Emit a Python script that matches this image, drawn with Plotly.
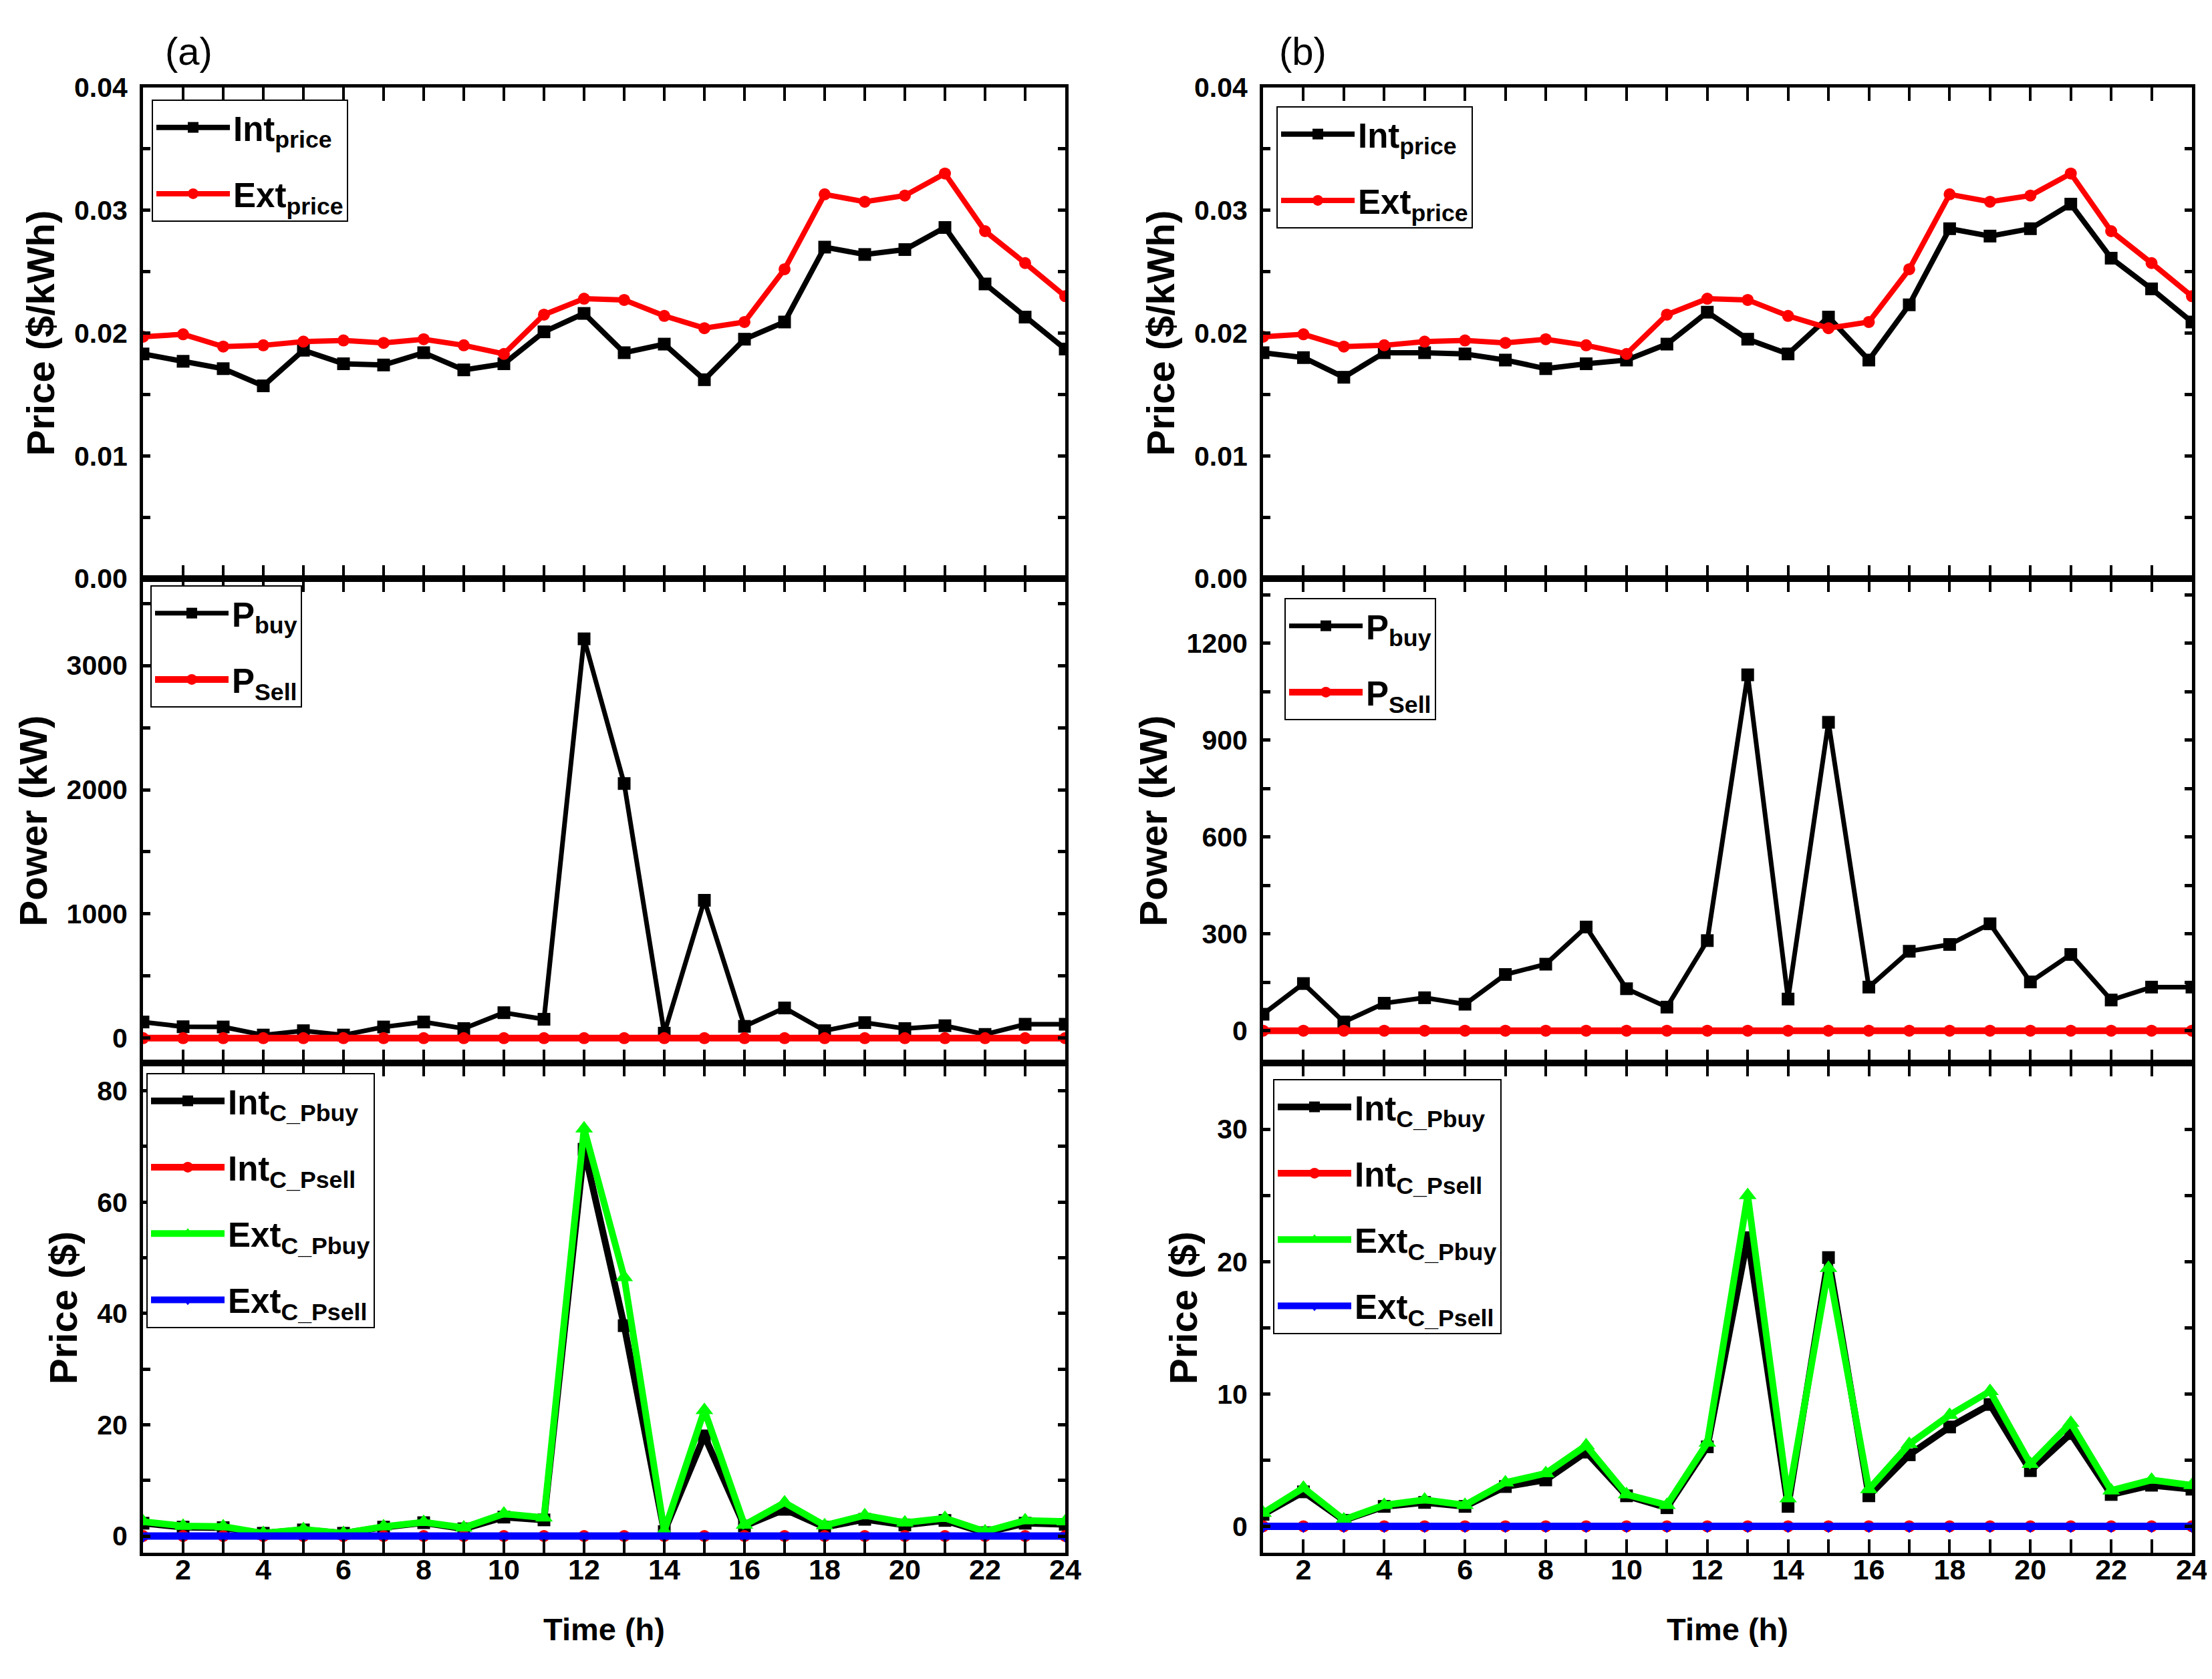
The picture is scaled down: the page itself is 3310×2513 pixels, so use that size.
import plotly.graph_objects as go

# ---------------- data ----------------
hours = [1, 2, 3, 4, 5, 6, 7, 8, 9, 10, 11, 12, 13, 14, 15, 16, 17, 18, 19, 20, 21, 22, 23, 24]

int_price_a = [0.0183, 0.0177, 0.0171, 0.0157, 0.0186, 0.0175, 0.0174, 0.0184, 0.0170, 0.0175, 0.0201, 0.0216,
               0.0184, 0.0191, 0.0162, 0.0195, 0.0209, 0.0270, 0.0264, 0.0268, 0.0286, 0.0240, 0.0213, 0.0187]
ext_price_a = [0.0197, 0.0199, 0.0189, 0.0190, 0.0193, 0.0194, 0.0192, 0.0195, 0.0190, 0.0183, 0.0215, 0.0228,
               0.0227, 0.0214, 0.0204, 0.0209, 0.0252, 0.0313, 0.0307, 0.0312, 0.0330, 0.0283, 0.0257, 0.0230]
int_price_b = [0.0184, 0.0180, 0.0164, 0.0184, 0.0184, 0.0183, 0.0178, 0.0171, 0.0175, 0.0178, 0.0191, 0.0217,
               0.0195, 0.0183, 0.0213, 0.0178, 0.0223, 0.0285, 0.0279, 0.0285, 0.0305, 0.0261, 0.0236, 0.0209]
ext_price_b = [0.0197, 0.0199, 0.0189, 0.0190, 0.0193, 0.0194, 0.0192, 0.0195, 0.0190, 0.0183, 0.0215, 0.0228,
               0.0227, 0.0214, 0.0204, 0.0209, 0.0252, 0.0313, 0.0307, 0.0312, 0.0330, 0.0283, 0.0257, 0.0230]

p_buy_a = [130, 92, 90, 25, 60, 25, 90, 130, 77, 205, 152, 3215, 2050, 40, 1110, 95, 243, 60, 125, 77, 100, 30, 112, 112]
p_sell_a = [0, 0, 0, 0, 0, 0, 0, 0, 0, 0, 0, 0, 0, 0, 0, 0, 0, 0, 0, 0, 0, 0, 0, 0]
p_buy_b = [51, 146, 27, 85, 102, 82, 174, 206, 321, 130, 73, 279, 1102, 98, 955, 135, 246, 267, 331, 151, 236, 95, 135, 135]
p_sell_b = [0, 0, 0, 0, 0, 0, 0, 0, 0, 0, 0, 0, 0, 0, 0, 0, 0, 0, 0, 0, 0, 0, 0, 0]

int_c_pbuy_a = [2.3, 1.6, 1.5, 0.5, 1.1, 0.5, 1.6, 2.4, 1.3, 3.4, 2.9, 69.5, 37.8, 0.8, 18.0, 1.8, 4.8, 1.6, 3.0, 2.0, 2.8, 0.6, 2.3, 2.1]
int_c_psell_a = [0, 0, 0, 0, 0, 0, 0, 0, 0, 0, 0, 0, 0, 0, 0, 0, 0, 0, 0, 0, 0, 0, 0, 0]
ext_c_pbuy_a = [2.6, 1.8, 1.7, 0.5, 1.2, 0.5, 1.7, 2.5, 1.5, 4.0, 3.3, 73.2, 46.5, 0.9, 22.6, 2.0, 6.0, 1.9, 3.7, 2.4, 3.2, 0.8, 2.8, 2.6]
ext_c_psell_a = [0, 0, 0, 0, 0, 0, 0, 0, 0, 0, 0, 0, 0, 0, 0, 0, 0, 0, 0, 0, 0, 0, 0, 0]

int_c_pbuy_b = [0.9, 2.6, 0.45, 1.5, 1.8, 1.5, 3.0, 3.5, 5.6, 2.3, 1.4, 6.0, 21.8, 1.5, 20.3, 2.3, 5.4, 7.5, 9.2, 4.2, 7.0, 2.4, 3.1, 2.8]
int_c_psell_b = [0, 0, 0, 0, 0, 0, 0, 0, 0, 0, 0, 0, 0, 0, 0, 0, 0, 0, 0, 0, 0, 0, 0, 0]
ext_c_pbuy_b = [1.0, 2.9, 0.5, 1.6, 2.0, 1.6, 3.3, 4.0, 6.1, 2.4, 1.6, 6.3, 25.0, 2.1, 19.5, 2.8, 6.2, 8.4, 10.2, 4.7, 7.8, 2.7, 3.5, 3.1]
ext_c_psell_b = [0, 0, 0, 0, 0, 0, 0, 0, 0, 0, 0, 0, 0, 0, 0, 0, 0, 0, 0, 0, 0, 0, 0, 0]

x_ticks = [2, 4, 6, 8, 10, 12, 14, 16, 18, 20, 22, 24]
x_minor_ticks = [3, 5, 7, 9, 11, 13, 15, 17, 19, 21, 23]

# ---------------- style ----------------
W, H = 3310, 2513
FONT = "Liberation Sans, Arial, sans-serif"
BLACK, RED, GREEN, BLUE = "#000000", "#FF0000", "#00FF00", "#0000FF"

fig = go.Figure()


def add(x, y, name, color, symbol, idx, lw, ms):
    ax = "" if idx == 1 else str(idx)
    fig.add_trace(go.Scatter(
        x=x, y=y, name=name, mode="lines+markers",
        line=dict(color=color, width=lw),
        marker=dict(color=color, symbol=symbol, size=ms),
        xaxis="x" + ax, yaxis="y" + ax,
        legend="legend" + ax, legendgroup=name + ax,
    ))


# (a) column
add(hours, int_price_a, "Int<sub>price</sub>", BLACK, "square", 1, 8, 19)
add(hours, ext_price_a, "Ext<sub>price</sub>", RED, "circle", 1, 8, 18)
add(hours, p_buy_a, "P<sub>buy</sub>", BLACK, "square", 2, 7, 19)
add(hours, p_sell_a, "P<sub>Sell</sub>", RED, "circle", 2, 10, 18)
add(hours, int_c_pbuy_a, "Int<sub>C_Pbuy</sub>", BLACK, "square", 3, 10, 19)
add(hours, int_c_psell_a, "Int<sub>C_Psell</sub>", RED, "circle", 3, 10, 18)
add(hours, ext_c_pbuy_a, "Ext<sub>C_Pbuy</sub>", GREEN, "triangle-up", 3, 10, 23)
add(hours, ext_c_psell_a, "Ext<sub>C_Psell</sub>", BLUE, "triangle-down", 3, 11, 20)
# (b) column
add(hours, int_price_b, "Int<sub>price</sub>", BLACK, "square", 4, 8, 19)
add(hours, ext_price_b, "Ext<sub>price</sub>", RED, "circle", 4, 8, 18)
add(hours, p_buy_b, "P<sub>buy</sub>", BLACK, "square", 5, 7, 19)
add(hours, p_sell_b, "P<sub>Sell</sub>", RED, "circle", 5, 10, 18)
add(hours, int_c_pbuy_b, "Int<sub>C_Pbuy</sub>", BLACK, "square", 6, 10, 19)
add(hours, int_c_psell_b, "Int<sub>C_Psell</sub>", RED, "circle", 6, 10, 18)
add(hours, ext_c_pbuy_b, "Ext<sub>C_Pbuy</sub>", GREEN, "triangle-up", 6, 10, 23)
add(hours, ext_c_psell_b, "Ext<sub>C_Psell</sub>", BLUE, "triangle-down", 6, 11, 20)

xdom = {"a": [206 / W, 1586 / W], "b": [1882 / W, 3272 / W]}
ydom = {"top": [1 - 858 / H, 1 - 123 / H], "mid": [1 - 1583 / H, 1 - 858 / H], "bot": [1 - 2316 / H, 1 - 1583 / H]}

panels = [
    # idx, col, row, yrange, dtick, minor, fmt, ytitle
    (1, "a", "top", [0, 0.04], 0.01, 0.005, ".2f", "Price ($/kWh)"),
    (2, "a", "mid", [-200, 3700], 1000, 500, "d", "Power (kW)"),
    (3, "a", "bot", [-3, 85], 20, 10, "d", "Price ($)"),
    (4, "b", "top", [0, 0.04], 0.01, 0.005, ".2f", "Price ($/kWh)"),
    (5, "b", "mid", [-100, 1400], 300, 150, "d", "Power (kW)"),
    (6, "b", "bot", [-2, 35], 10, 5, "d", "Price ($)"),
]

layout = {}
for idx, col, row, yr, dt, mdt, fmt, ytitle in panels:
    ax = "" if idx == 1 else str(idx)
    bottom = row == "bot"
    xa = dict(
        domain=xdom[col], anchor="y" + ax, range=[1, 24],
        tickmode="array", tickvals=x_ticks, ticktext=[str(v) for v in x_ticks],
        ticks="inside", ticklen=20, tickwidth=4, tickcolor=BLACK,
        minor=dict(tickmode="array", tickvals=x_minor_ticks,
                   ticks="inside", ticklen=20, tickwidth=4, tickcolor=BLACK, showgrid=False),
        showline=True, linewidth=5, linecolor=BLACK, mirror="allticks",
        showgrid=False, zeroline=False, showticklabels=bottom,
        tickfont=dict(family=FONT, size=43, color=BLACK, weight="bold"),
        ticklabelstandoff=-17, automargin=False,
    )
    if bottom:
        xa["title"] = dict(text="Time (h)", standoff=52,
                           font=dict(family=FONT, size=47, color=BLACK, weight="bold"))
    ya = dict(
        domain=ydom[row], anchor="x" + ax, range=yr,
        tickmode="linear", tick0=0, dtick=dt, tickformat=fmt,
        ticks="inside", ticklen=11, tickwidth=5, tickcolor=BLACK,
        minor=dict(tickmode="linear", tick0=0, dtick=mdt, ticks="inside", ticklen=11,
                   tickwidth=5, tickcolor=BLACK, showgrid=False),
        showline=True, linewidth=5, linecolor=BLACK, mirror="allticks",
        showgrid=False, zeroline=False,
        tickfont=dict(family=FONT, size=41, color=BLACK, weight="bold"),
        ticklabelstandoff=10, automargin=False,
        title=dict(text=ytitle, standoff=12,
                   font=dict(family=FONT, size=58, color=BLACK, weight="bold")),
    )
    layout["xaxis" + ax] = xa
    layout["yaxis" + ax] = ya

legend_pos = {
    1: (219, 141), 2: (217, 868), 3: (211, 1598),
    4: (1902, 151), 5: (1914, 887), 6: (1897, 1607),
}
for idx, (px, py) in legend_pos.items():
    key = "legend" if idx == 1 else "legend" + str(idx)
    layout[key] = dict(
        x=px / W, y=1 - py / H, xanchor="left", yanchor="top",
        xref="paper", yref="paper",
        bgcolor="white", bordercolor=BLACK, borderwidth=2,
        font=dict(family=FONT, size=51, color=BLACK, weight="bold"),
        tracegroupgap=30, itemwidth=110, traceorder="grouped",
    )

fig.update_layout(
    width=W, height=H, margin=dict(l=0, r=0, t=0, b=0),
    paper_bgcolor="white", plot_bgcolor="white", showlegend=True,
    annotations=[
        dict(text="(a)", x=274 / W, y=1 - 68 / H, xref="paper", yref="paper", showarrow=False,
             xanchor="center", yanchor="middle",
             font=dict(family=FONT, size=58, color=BLACK)),
        dict(text="(b)", x=1942 / W, y=1 - 68 / H, xref="paper", yref="paper", showarrow=False,
             xanchor="center", yanchor="middle",
             font=dict(family=FONT, size=58, color=BLACK)),
    ],
    **layout,
)

fig.write_html("out.html")
